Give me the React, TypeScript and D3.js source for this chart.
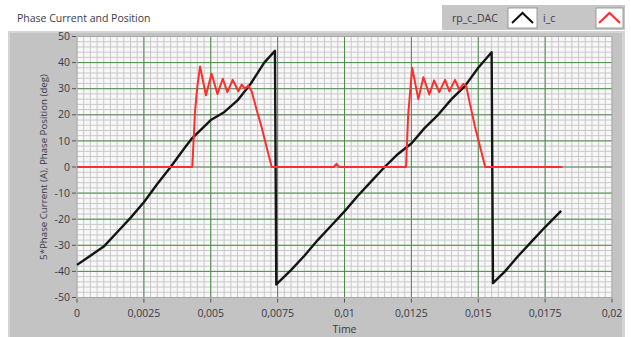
import * as d3 from 'd3';

// time axis ticks (s) and labels as LabVIEW prints them
const xTicks = [0, 0.0025, 0.005, 0.0075, 0.01, 0.0125, 0.015, 0.0175, 0.02];
const xTickLabels = ['0', '0,0025', '0,005', '0,0075', '0,01', '0,0125', '0,015', '0,0175', '0,02'];
const yTicks = [-50, -40, -30, -20, -10, 0, 10, 20, 30, 40, 50];

// rp_c_DAC: phase position sawtooth [time, value]
const rpCDac: [number, number][] = [
  [0, -37.5], [0.0005, -34], [0.001, -30.5], [0.0015, -25], [0.002, -19.5],
  [0.0025, -13.5], [0.003, -6.5], [0.0035, 0], [0.004, 7], [0.0043, 11],
  [0.005, 18], [0.0055, 21], [0.006, 25.5], [0.0065, 32], [0.007, 40],
  [0.0074, 44.5], [0.00745, -45],
  [0.008, -39.5], [0.0085, -34], [0.009, -28], [0.0095, -22.5], [0.01, -17],
  [0.0105, -11], [0.011, -5.5], [0.0115, 0], [0.012, 5], [0.0125, 9],
  [0.013, 15], [0.0135, 20], [0.014, 26], [0.0145, 31], [0.015, 38],
  [0.0155, 44], [0.01555, -44.5],
  [0.016, -40], [0.0165, -34], [0.017, -28.5], [0.0175, -23], [0.0181, -16.8],
];

// i_c: 5 * phase current [time, value]
const iC: [number, number][] = [
  [0, 0], [0.00431, 0], [0.00441, 21], [0.0045, 31], [0.0046, 38.5],
  [0.00482, 27.5], [0.00503, 35.7], [0.00525, 28], [0.00545, 33.8],
  [0.00562, 28.7], [0.00582, 33.4], [0.00603, 29], [0.00616, 31.6],
  [0.00628, 30], [0.0064, 31.2], [0.00653, 29], [0.00672, 21.7],
  [0.0069, 15.3], [0.00709, 7.6], [0.00728, 0], [0.0096, 0], [0.0097, 1.2],
  [0.0098, 0], [0.0123, 0], [0.01238, 20], [0.01253, 38], [0.01276, 26],
  [0.01295, 34.4], [0.01317, 27.8], [0.01335, 33.2], [0.01354, 28.7],
  [0.01376, 33.4], [0.01392, 29], [0.01413, 33.4], [0.01429, 29.6],
  [0.01444, 31.9], [0.01455, 31], [0.01469, 24.2], [0.01488, 15.3],
  [0.01504, 8.9], [0.01526, 0], [0.01815, 0],
];

const W = 631;
const H = 337;
const plot = { left: 77, right: 612, top: 36.5, bottom: 297.5 };
const font = '"Open Sans", sans-serif';
const textColor = '#3a3a48';

export default function App() {
  const x = d3.scaleLinear().domain([0, 0.02]).range([plot.left, plot.right]);
  const y = d3.scaleLinear().domain([-50, 50]).range([plot.bottom, plot.top]);

  const line = d3.line<[number, number]>()
    .x(d => x(d[0]))
    .y(d => y(d[1]));

  const minorX = d3.range(0, 0.02 + 1e-9, 0.00025);
  const minorY = d3.range(-50, 50.001, 2);

  return (
    <svg width={W} height={H} style={{ position: 'absolute', left: 0, top: 0 }}>
      <rect x={0} y={0} width={W} height={H} fill="#ffffff" />
      {/* panel */}
      <rect x={8} y={31} width={617} height={H - 31} fill="#d4d4d4" />
      <rect x={10} y={33} width={612} height={H - 33} fill="#c3c3c3" />

      <text x={17} y={22} fontFamily={font} fontSize={10.5} fill={textColor}>
        Phase Current and Position
      </text>

      {/* legend */}
      <g>
        <rect x={442} y={5} width={183} height={25} fill="#c6c6c6" />
        <text x={452} y={22} fontFamily={font} fontSize={10.5} fill={textColor}>rp_c_DAC</text>
        <rect x={508} y={8} width={29} height={20} fill="#ffffff" stroke="#888" strokeWidth={0.8} />
        <path d="M512,23 L522.5,13 L533,23" fill="none" stroke="#111" strokeWidth={2} />
        <text x={543} y={22} fontFamily={font} fontSize={10.5} fill={textColor}>i_c</text>
        <rect x={596} y={8} width={27} height={20} fill="#ffffff" stroke="#888" strokeWidth={0.8} />
        <path d="M599,23 L609.5,13 L620,23" fill="none" stroke="#ff2a2a" strokeWidth={2} />
      </g>

      {/* plot area */}
      <rect x={plot.left} y={plot.top} width={plot.right - plot.left} height={plot.bottom - plot.top} fill="#f8f8f8" />
      <g stroke="#c8c8c8" strokeWidth={1}>
        {minorX.map((t, i) => (
          <line key={'mx' + i} x1={x(t)} x2={x(t)} y1={plot.top} y2={plot.bottom} />
        ))}
        {minorY.map((v, i) => (
          <line key={'my' + i} x1={plot.left} x2={plot.right} y1={y(v)} y2={y(v)} />
        ))}
      </g>
      <g stroke="#4f8a4a" strokeWidth={1}>
        {xTicks.slice(1, -1).map(t => (
          <line key={'gx' + t} x1={x(t)} x2={x(t)} y1={plot.top} y2={plot.bottom} />
        ))}
        {yTicks.slice(1, -1).map(v => (
          <line key={'gy' + v} x1={plot.left} x2={plot.right} y1={y(v)} y2={y(v)} />
        ))}
      </g>
      <rect x={plot.left} y={plot.top} width={plot.right - plot.left} height={plot.bottom - plot.top}
        fill="none" stroke="#a8a8a8" strokeWidth={1} />

      {/* series */}
      <path d={line(rpCDac) || ''} fill="none" stroke="#151515" strokeWidth={2.4} strokeLinejoin="round" />
      <path d={line(iC) || ''} fill="none" stroke="#ff2e2e" strokeWidth={2} strokeLinejoin="round" />

      {/* y axis */}
      <g>
        {yTicks.map(v => (
          <g key={'yt' + v}>
            <line x1={plot.left - 5} x2={plot.left - 1} y1={y(v)} y2={y(v)} stroke="#555" strokeWidth={1} />
            <text x={plot.left - 7} y={y(v)} dy="0.35em" textAnchor="end" fontFamily={font} fontSize={10.5} fill={textColor}>
              {v}
            </text>
          </g>
        ))}
      </g>
      <text transform={`translate(47,${(plot.top + plot.bottom) / 2}) rotate(-90)`} textAnchor="middle"
        fontFamily={font} fontSize={9.7} fill={textColor}>
        5*Phase Current (A), Phase Position (deg)
      </text>

      {/* x axis */}
      <g>
        {xTicks.map((t, i) => (
          <g key={'xt' + t}>
            <line x1={x(t)} x2={x(t)} y1={plot.bottom + 1} y2={plot.bottom + 5} stroke="#555" strokeWidth={1} />
            <text x={x(t)} y={317} textAnchor="middle" fontFamily={font} fontSize={10.5} fill={textColor}>
              {xTickLabels[i]}
            </text>
          </g>
        ))}
      </g>
      <text x={(plot.left + plot.right) / 2} y={333} textAnchor="middle" fontFamily={font} fontSize={10.5} fill={textColor}>
        Time
      </text>
    </svg>
  );
}
